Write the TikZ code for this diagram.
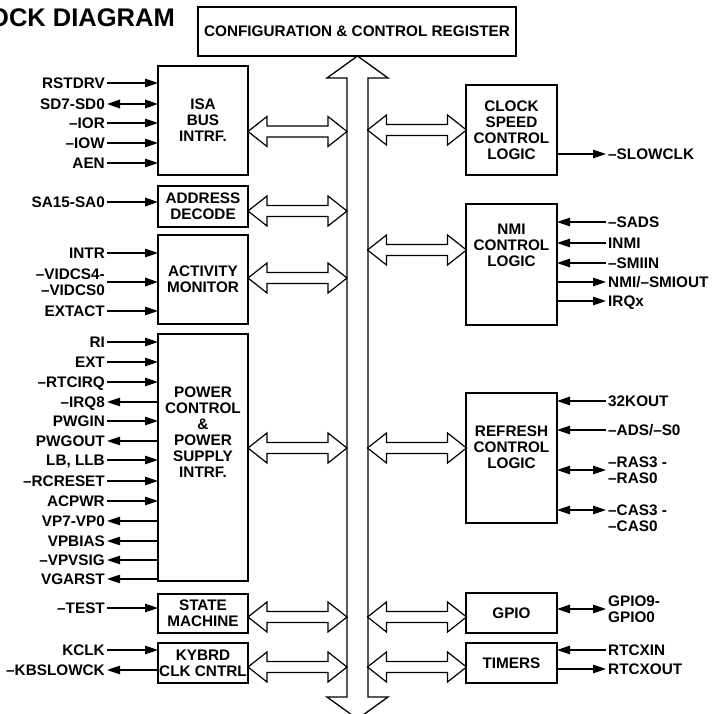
\documentclass[tikz,border=0pt]{standalone}
\usepackage{fontspec}
\setmainfont{Liberation Sans}
\usetikzlibrary{arrows.meta}
\begin{document}
\begin{tikzpicture}[x=1pt,y=-1pt,
  every node/.style={font=\bfseries\fontsize{15.3}{16}\selectfont},
  blk/.style={draw,line width=1.3pt,minimum width=90pt,outer sep=0pt,inner sep=0pt,align=center},
  lbl/.style={inner sep=2pt,text height=11pt,text depth=0pt},
  sig/.style={line width=1.1pt,-{Triangle[length=13pt,width=8.5pt]}},
  bsig/.style={line width=1.1pt,{Triangle[length=13pt,width=8.5pt]}-{Triangle[length=13pt,width=8.5pt]}},
  thk/.style={line width=2pt},
  hol/.style={line width=1.2pt,fill=white,line join=miter},
  dbl/.pic={\draw[hol] (0,0) -- (19,-15) -- (19,-5.5) -- (80,-5.5) -- (80,-15) -- (99,0) -- (80,15) -- (80,5.5) -- (19,5.5) -- (19,15) -- cycle;}]
\useasboundingbox (0,0) rectangle (714,714);
\clip (0,0) rectangle (714,714);
\node[anchor=base east,inner sep=0pt,font=\bfseries\fontsize{25.5}{30}\selectfont] (title) at (175,27) {OCK DIAGRAM};
\draw[line width=1.3pt,fill=white] (357.5,56) -- (388,78) -- (368,78) -- (368,697) -- (388,697) -- (357.5,719) -- (327,697) -- (347,697) -- (347,78) -- (327,78) -- cycle;
\node[blk,minimum width=318pt,minimum height=49pt] (cfg) at (357,31.5) {CONFIGURATION \& CONTROL REGISTER};
\node[blk,minimum height=109pt] (isa) at (203,120.5) {ISA\\BUS\\INTRF.};
\node[blk,minimum height=41pt] (adr) at (203,206.5) {ADDRESS\\DECODE};
\node[blk,minimum height=89pt] (act) at (203,279.5) {ACTIVITY\\MONITOR};
\node[blk,minimum height=247pt] (pwr) at (203,457.5) {};
\node[align=center,inner sep=0pt] (pwrtxt) at (203,432) {POWER\\CONTROL\\\&\\POWER\\SUPPLY\\INTRF.};
\node[blk,minimum height=39pt] (stm) at (203,613.5) {STATE\\MACHINE};
\node[blk,minimum height=40pt] (kbd) at (203,663) {KYBRD\\CLK CNTRL};
\node[blk,minimum width=91pt,minimum height=90pt] (clk) at (511.5,130) {CLOCK\\SPEED\\CONTROL\\LOGIC};
\node[blk,minimum width=91pt,minimum height=121pt] (nmi) at (511.5,264.5) {};
\node[align=center,inner sep=0pt] (nmitxt) at (511.5,245) {NMI\\CONTROL\\LOGIC};
\node[blk,minimum width=91pt,minimum height=130pt] (ref) at (511.5,458) {};
\node[align=center,inner sep=0pt] (reftxt) at (511.5,447.5) {REFRESH\\CONTROL\\LOGIC};
\node[blk,minimum width=91pt,minimum height=40pt] (gpio) at (511.5,613) {GPIO};
\node[blk,minimum width=91pt,minimum height=40pt] (tmr) at (511.5,663) {TIMERS};
\pic at (248,131.5) {dbl};
\pic at (248,211) {dbl};
\pic at (248,278) {dbl};
\pic at (248,448) {dbl};
\pic at (248,617) {dbl};
\pic at (248,667) {dbl};
\pic at (367.5,130) {dbl};
\pic at (367.5,250) {dbl};
\pic at (367.5,448) {dbl};
\pic at (367.5,617) {dbl};
\pic at (367.5,667) {dbl};
\node[lbl,anchor=east] (rstdrv) at (107,83) {RSTDRV};
\node[lbl,anchor=east] (sd) at (107,104) {SD7-SD0};
\node[lbl,anchor=east] (ior) at (107,123) {–IOR};
\node[lbl,anchor=east] (iow) at (107,143) {–IOW};
\node[lbl,anchor=east] (aen) at (107,163) {AEN};
\node[lbl,anchor=east] (sa) at (107,202) {SA15-SA0};
\node[lbl,anchor=east] (intr) at (107,253) {INTR};
\node[anchor=east,align=right,inner sep=2pt] (vidcs) at (107,282) {–VIDCS4-\\–VIDCS0};
\node[lbl,anchor=east] (extact) at (107,311) {EXTACT};
\node[lbl,anchor=east] (ri) at (107,342) {RI};
\node[lbl,anchor=east] (ext) at (107,362) {EXT};
\node[lbl,anchor=east] (rtcirq) at (107,382) {–RTCIRQ};
\node[lbl,anchor=east] (irq8) at (107,402) {–IRQ8};
\node[lbl,anchor=east] (pwgin) at (107,421) {PWGIN};
\node[lbl,anchor=east] (pwgout) at (107,441) {PWGOUT};
\node[lbl,anchor=east] (lb) at (107,460) {LB, LLB};
\node[lbl,anchor=east] (rcreset) at (107,481) {–RCRESET};
\node[lbl,anchor=east] (acpwr) at (107,501) {ACPWR};
\node[lbl,anchor=east] (vp) at (107,521) {VP7-VP0};
\node[lbl,anchor=east] (vpbias) at (107,541) {VPBIAS};
\node[lbl,anchor=east] (vpvsig) at (107,560) {–VPVSIG};
\node[lbl,anchor=east] (vgarst) at (107,579) {VGARST};
\node[lbl,anchor=east] (test) at (107,608) {–TEST};
\node[lbl,anchor=east] (kclk) at (107,650) {KCLK};
\node[lbl,anchor=east] (kbslow) at (107,670) {–KBSLOWCK};
\draw[sig] (rstdrv.east) -- (rstdrv.east -| isa.west);
\draw[bsig,thk] (sd.east) -- (sd.east -| isa.west);
\draw[sig] (ior.east) -- (ior.east -| isa.west);
\draw[sig] (iow.east) -- (iow.east -| isa.west);
\draw[sig] (aen.east) -- (aen.east -| isa.west);
\draw[sig,thk] (sa.east) -- (sa.east -| adr.west);
\draw[sig] (intr.east) -- (intr.east -| act.west);
\draw[sig,thk] (vidcs.east) -- (vidcs.east -| act.west);
\draw[sig] (extact.east) -- (extact.east -| act.west);
\draw[sig] (ri.east) -- (ri.east -| pwr.west);
\draw[sig] (ext.east) -- (ext.east -| pwr.west);
\draw[sig] (rtcirq.east) -- (rtcirq.east -| pwr.west);
\draw[sig] (irq8.east -| pwr.west) -- (irq8.east);
\draw[sig] (pwgin.east) -- (pwgin.east -| pwr.west);
\draw[sig] (pwgout.east -| pwr.west) -- (pwgout.east);
\draw[sig] (lb.east) -- (lb.east -| pwr.west);
\draw[sig] (rcreset.east) -- (rcreset.east -| pwr.west);
\draw[sig] (acpwr.east) -- (acpwr.east -| pwr.west);
\draw[sig] (vp.east -| pwr.west) -- (vp.east);
\draw[sig] (vpbias.east -| pwr.west) -- (vpbias.east);
\draw[sig] (vpvsig.east -| pwr.west) -- (vpvsig.east);
\draw[sig] (vgarst.east -| pwr.west) -- (vgarst.east);
\draw[sig] (test.east) -- (test.east -| stm.west);
\draw[sig] (kclk.east) -- (kclk.east -| kbd.west);
\draw[sig] (kbslow.east -| kbd.west) -- (kbslow.east);
\node[lbl,anchor=west] (slowclk) at (606,154) {–SLOWCLK};
\node[lbl,anchor=west] (sads) at (606,222) {–SADS};
\node[lbl,anchor=west] (inmi) at (606,243) {INMI};
\node[lbl,anchor=west] (smiin) at (606,263) {–SMIIN};
\node[lbl,anchor=west] (smiout) at (606,282) {NMI/–SMIOUT};
\node[lbl,anchor=west] (irqx) at (606,301) {IRQx};
\node[lbl,anchor=west] (k32) at (606,401) {32KOUT};
\node[lbl,anchor=west] (ads) at (606,430) {–ADS/–S0};
\node[anchor=west,align=left,inner sep=2pt] (ras) at (606,470) {–RAS3 -\\–RAS0};
\node[anchor=west,align=left,inner sep=2pt] (cas) at (606,518) {–CAS3 -\\–CAS0};
\coordinate (casin) at ([yshift=8pt]cas.west);
\node[anchor=west,align=left,inner sep=2pt] (gp) at (606,609) {GPIO9-\\GPIO0};
\node[lbl,anchor=west] (rtcxin) at (606,650) {RTCXIN};
\node[lbl,anchor=west] (rtcxout) at (606,669) {RTCXOUT};
\draw[sig] (slowclk.west -| clk.east) -- (slowclk.west);
\draw[sig] (sads.west) -- (sads.west -| nmi.east);
\draw[sig] (inmi.west) -- (inmi.west -| nmi.east);
\draw[sig] (smiin.west) -- (smiin.west -| nmi.east);
\draw[sig] (smiout.west -| nmi.east) -- (smiout.west);
\draw[sig] (irqx.west -| nmi.east) -- (irqx.west);
\draw[sig] (k32.west) -- (k32.west -| ref.east);
\draw[sig] (ads.west) -- (ads.west -| ref.east);
\draw[bsig] (ras.west -| ref.east) -- (ras.west);
\draw[bsig] (casin -| ref.east) -- (casin);
\draw[bsig] (gp.west -| gpio.east) -- (gp.west);
\draw[sig] (rtcxin.west) -- (rtcxin.west -| tmr.east);
\draw[sig] (rtcxout.west -| tmr.east) -- (rtcxout.west);
\end{tikzpicture}
\end{document}
